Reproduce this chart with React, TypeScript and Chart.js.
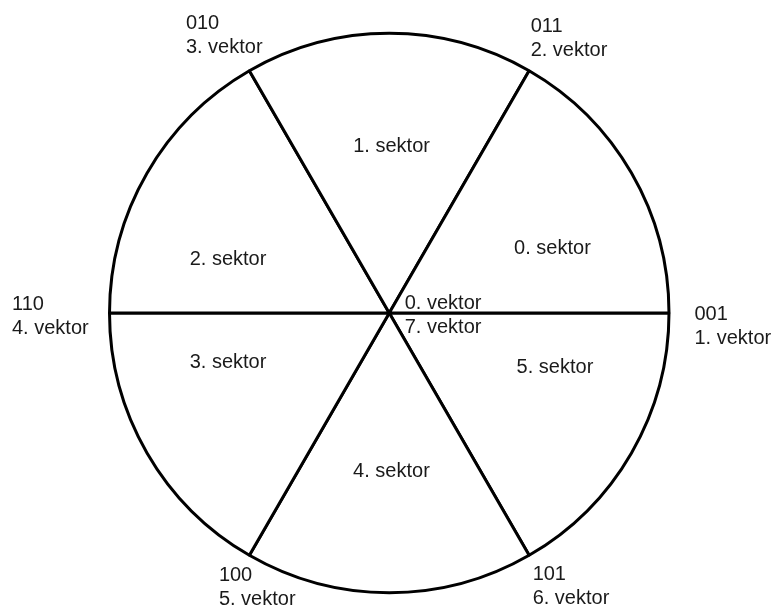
import React, { useEffect, useRef } from "react";
import { Chart, registerables } from "chart.js";

Chart.register(...registerables);

// Sectors listed clockwise starting at 3 o'clock
const sectorNames = ["5. sektor", "4. sektor", "3. sektor", "2. sektor", "1. sektor", "0. sektor"];
const sectorShares = [1, 1, 1, 1, 1, 1];
// Vectors listed counter-clockwise starting at 3 o'clock
const vectorCodes = ["001", "011", "010", "110", "100", "101"];
const vectorNames = ["1. vektor", "2. vektor", "3. vektor", "4. vektor", "5. vektor", "6. vektor"];
const centerLabels = ["0. vektor", "7. vektor"];

// label placement (polar, degrees counter-clockwise from east, px)
const sectorLabelPolar: [number, number][] = [
  [341.95, 174.3],
  [270.8, 158.5],
  [197.1, 168.7],
  [161.5, 170],
  [89.2, 166.5],
  [21.56, 175.5],
];
// offsets of the vector label (left edge, first line middle) from the rim point
const vectorLabelOffset: [number, number][] = [
  [25.5, 1],
  [1.5, -44.5],
  [-63.5, -47.5],
  [-97.5, -9],
  [-30.5, 20.5],
  [3.5, 19.5],
];

const FONT = '20px "Liberation Sans", Arial, sans-serif';
const TEXT = "#1a1a1a";
const LINE_GAP = 24;

const labelPlugin = {
  id: "diagramLabels",
  afterDraw(chart: any) {
    const meta = chart.getDatasetMeta(0);
    const arc = meta.data[0];
    if (!arc) return;
    const { x, y, outerRadius } = arc.getProps(["x", "y", "outerRadius"], true);
    const ctx = chart.ctx;
    ctx.save();
    ctx.font = FONT;
    ctx.fillStyle = TEXT;
    ctx.textBaseline = "middle";

    // sector labels
    ctx.textAlign = "center";
    sectorNames.forEach((name, i) => {
      const [deg, dist] = sectorLabelPolar[i];
      const a = (deg * Math.PI) / 180;
      ctx.fillText(name, x + dist * Math.cos(a), y - dist * Math.sin(a));
    });

    // vector labels at rim
    ctx.textAlign = "left";
    vectorCodes.forEach((code, i) => {
      const a = (i * 60 * Math.PI) / 180;
      const px = x + outerRadius * Math.cos(a);
      const py = y - outerRadius * Math.sin(a);
      const [dx, dy] = vectorLabelOffset[i];
      ctx.fillText(code, px + dx, py + dy);
      ctx.fillText(vectorNames[i], px + dx, py + dy + LINE_GAP);
    });

    // center labels
    ctx.fillText(centerLabels[0], x + 15.5, y - 10);
    ctx.fillText(centerLabels[1], x + 15.5, y + 14);
    ctx.restore();
  },
};

export default function App() {
  const ref = useRef<HTMLCanvasElement | null>(null);
  useEffect(() => {
    if (!ref.current) return;
    const chart = new Chart(ref.current, {
      type: "pie",
      data: {
        labels: sectorNames,
        datasets: [
          {
            data: sectorShares,
            backgroundColor: "#ffffff",
            borderColor: "#000000",
            borderWidth: 3,
            hoverBorderWidth: 3,
            hoverBackgroundColor: "#ffffff",
            hoverBorderColor: "#000000",
          },
        ],
      },
      options: {
        responsive: false,
        animation: false,
        events: [],
        devicePixelRatio: 1,
        rotation: 90,
        layout: { padding: { left: 108, top: 31.5, right: 105.5, bottom: 11.5 } },
        plugins: {
          legend: { display: false },
          tooltip: { enabled: false },
          title: { display: false },
        },
      },
      plugins: [labelPlugin],
    });
    return () => chart.destroy();
  }, []);
  return (
    <div style={{ position: "fixed", left: 0, top: 0, width: 776, height: 606, background: "#ffffff" }}>
      <canvas ref={ref} width={776} height={606} style={{ width: 776, height: 606, display: "block" }} />
    </div>
  );
}
